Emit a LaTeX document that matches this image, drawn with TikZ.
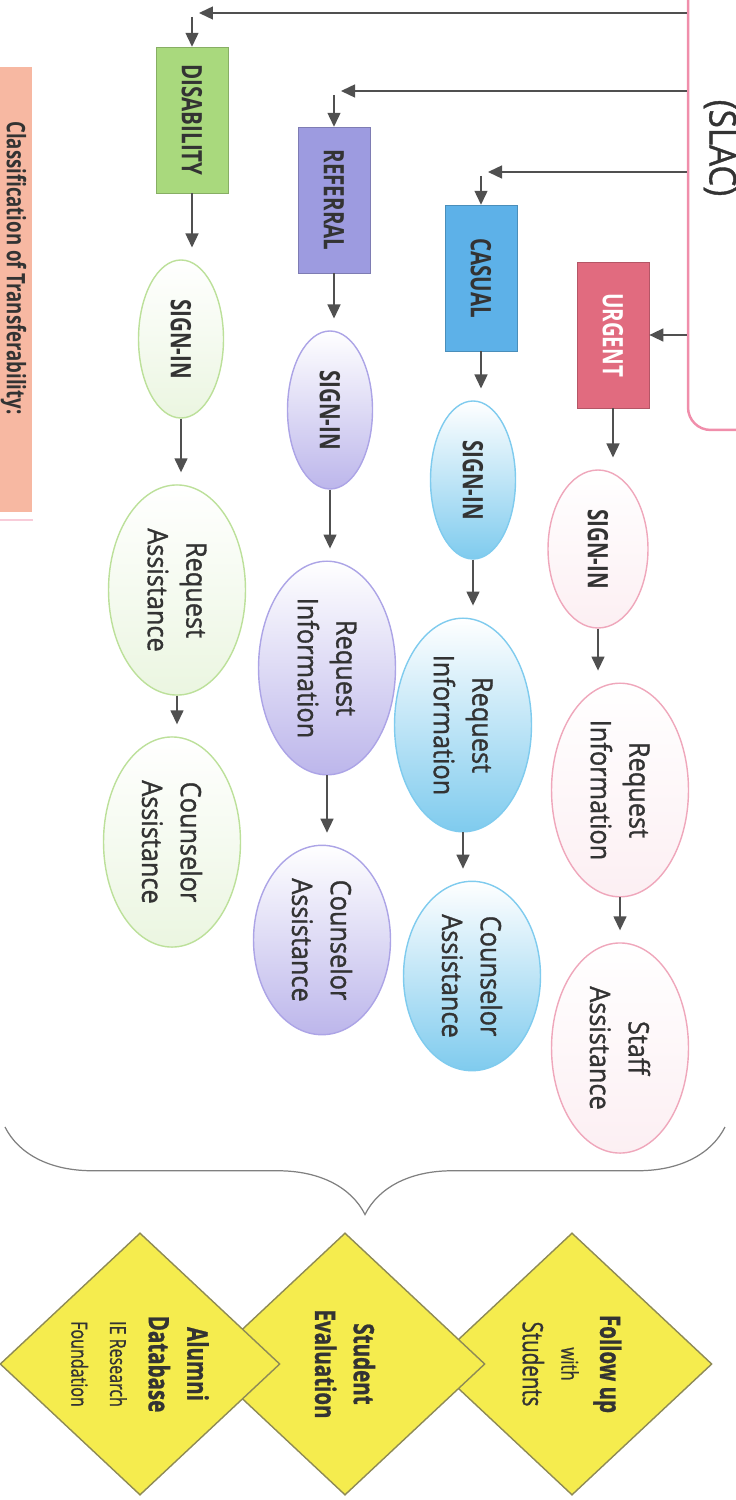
\documentclass[tikz,border=0pt]{standalone}
\usepackage{fontspec}
\setmainfont{Open Sans}
\newfontfamily\medfont{Open Sans}[FakeBold=1.2]
\usetikzlibrary{shapes.geometric}
\usetikzlibrary{arrows.meta}
\usetikzlibrary{decorations.pathreplacing}
\definecolor{ink}{HTML}{333333}
\definecolor{arrgray}{HTML}{505050}
\definecolor{slacpink}{HTML}{F08EAB}
\definecolor{salmon}{HTML}{F7B8A2}
\definecolor{cgreen}{HTML}{A9D97D}
\definecolor{cpurple}{HTML}{9D9BE0}
\definecolor{cblue}{HTML}{5DB1E8}
\definecolor{cred}{HTML}{E16B7F}
\definecolor{egreen}{HTML}{BCE09A}
\definecolor{epurple}{HTML}{ACA4E6}
\definecolor{eblue}{HTML}{7FCBEE}
\definecolor{epink}{HTML}{EFA7BB}
\definecolor{goalyellow}{HTML}{F5EC4E}
\definecolor{goalline}{HTML}{8E8A55}

\begin{document}
\begin{tikzpicture}[x=0.02cm, y=-0.02cm, every node/.style={text=ink},
	vert/.style={rotate=-90, xscale=#1}, vert/.default=0.73,
	kind/.style={vert, draw=#1!80!black, fill=#1, minimum width=4cm,
		minimum height=1.44cm, font=\fontsize{16}{20}\selectfont\bfseries},
	sign/.style={vert, ellipse, line width=0.8pt, minimum width=4.33cm,
		minimum height=1.7cm, font=\fontsize{16}{20}\selectfont\bfseries},
	ask/.style={vert=0.9, ellipse, line width=0.8pt, minimum width=4.67cm,
		minimum height=2.74cm, align=center, font=\fontsize{16}{22}\selectfont\medfont},
	gcol/.style={draw=egreen, bottom color=egreen!30, top color=white},
	pcol/.style={draw=epurple, bottom color=epurple!80, top color=white},
	bcol/.style={draw=eblue, bottom color=eblue, top color=white},
	ucol/.style={draw=epink, bottom color=epink!18, top color=white},
	goal/.style={vert, diamond, draw=goalline, line width=0.8pt, fill=goalyellow,
		inner sep=0pt, minimum width=7.18cm, minimum height=5.6cm, align=center,
		font=\fontsize{16}{22}\selectfont\medfont},
	arr/.style={draw=arrgray, line width=0.8pt, -{Triangle[length=0.28cm,width=0.26cm]}},
	flow/.style={arr, shorten >=0.24cm}
	]
	\useasboundingbox (0,0) rectangle (736,1500);
	\clip (0,0) rectangle (736,1500);

	\fill[salmon] (-5,67) rectangle (32,512);
	\draw[slacpink!45, line width=1pt] (-5,520) -- (33,520);
	\node[vert, anchor=base, font=\fontsize{14.5}{17}\selectfont\bfseries] (cls) at (7,268) {Classification of Transferability:};

	\node[draw=slacpink, line width=1.4pt, rounded corners=0.45cm, minimum width=2.4cm, minimum height=10cm] (slac) at (748,180) {};
	\node[vert=0.9, font=\fontsize{21}{24}\selectfont\medfont] (slact) at (720,148) {(SLAC)};

	\node[kind=cgreen] (dis) at (192,120) {DISABILITY};
	\node[kind=cpurple] (ref) at (334,200) {REFERRAL};
	\node[kind=cblue] (cas) at (481,278) {CASUAL};
	\node[kind=cred, text=white] (urg) at (613,335) {URGENT};

	\node[sign, gcol] (gs) at (181,339) {SIGN-IN};
	\node[ask, gcol] (gr) at (177,590) {Request\\Assistance};
	\node[ask, gcol] (gc) at (172,842) {Counselor\\Assistance};
	\node[sign, pcol] (ps) at (330,410) {SIGN-IN};
	\node[ask, pcol] (pr) at (327,668) {Request\\Information};
	\node[ask, pcol, minimum width=4.15cm] (pc) at (322,940) {Counselor\\Assistance};
	\node[sign, bcol] (bs) at (473,480) {SIGN-IN};
	\node[ask, bcol] (br) at (463,725) {Request\\Information};
	\node[ask, bcol, minimum width=4.15cm] (bc) at (472,976) {Counselor\\Assistance};
	\node[sign, ucol, minimum height=2cm] (us) at (598,549) {SIGN-IN};
	\node[ask, ucol] (ur) at (620,790) {Request\\Information};
	\node[ask, ucol] (ua) at (620,1048) {Staff\\Assistance};

	\node[goal] (fol) at (572,1364) {\textbf{Follow up}\\{\fontsize{13}{18}\selectfont with}\\Students};
	\node[goal] (eva) at (345,1364) {\textbf{Student}\\\textbf{Evaluation}};
	\node[goal] (alu) at (140,1364) {\textbf{Alumni}\\\textbf{Database}\\{\fontsize{12.5}{16}\selectfont IE Research}\\{\fontsize{12.5}{16}\selectfont Foundation}};

	\coordinate (k1) at (192,13);
	\coordinate (k2) at (334,91);
	\coordinate (k3) at (481,172);
	\path (slac.west |- k1) edge[arr, shorten >=0.14cm] (k1)
		(k1) edge[arr, shorten <=0.08cm] (dis.west);
	\path (slac.west |- k2) edge[arr, shorten >=0.14cm] (k2)
		(k2) edge[arr, shorten <=0.08cm] (ref.west);
	\path (slac.west |- k3) edge[arr, shorten >=0.14cm] (k3)
		(k3) edge[arr, shorten <=0.08cm] (cas.west);
	\path (slac.west |- urg) edge[arr] (urg.north);

	\path (dis.east) edge[flow] (dis.east |- gs.west)
		(gs.east) edge[flow] (gs.east |- gr.west)
		(gr.east) edge[flow] (gr.east |- gc.west);
	\path (ref.east) edge[flow] (ref.east |- ps.west)
		(ps.east) edge[flow] (ps.east |- pr.west)
		(pr.east) edge[flow] (pr.east |- pc.west);
	\path (cas.east) edge[flow] (cas.east |- bs.west)
		(bs.east) edge[flow] (bs.east |- br.west)
		(br.east) edge[flow] (br.east |- bc.west);
	\path (urg.east) edge[flow] (urg.east |- us.west)
		(us.east) edge[flow] (us.east |- ur.west)
		(ur.east) edge[flow] (ur.east |- ua.west);

	\coordinate (bleft) at (5,1127);
	\coordinate (bright) at (725,1127);
	\draw[gray, line width=0.7pt, decorate, decoration={brace, amplitude=1.75cm}] (bright) -- (bleft);
\end{tikzpicture}
\end{document}
